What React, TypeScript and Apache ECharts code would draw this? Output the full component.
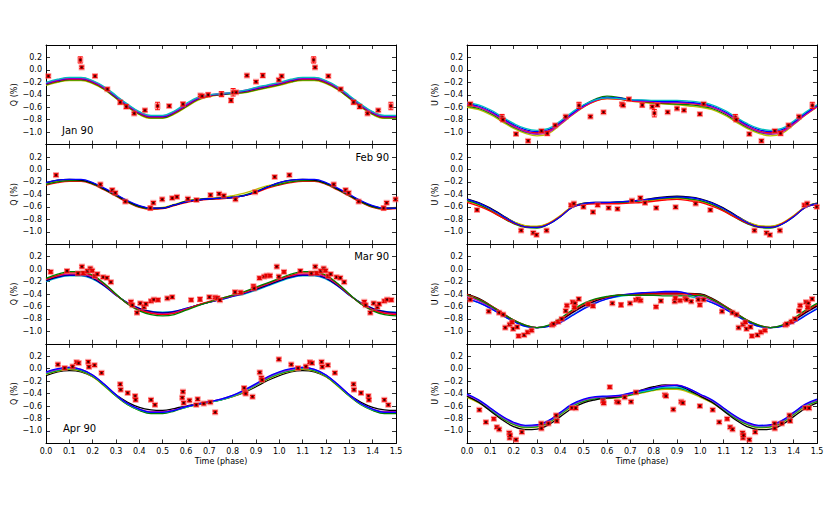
import React, { useEffect, useRef } from "react";
import * as echarts from "echarts";

// phase grid for one cycle of the model curves
const PHASE = [0, 0.05, 0.1, 0.15, 0.2, 0.25, 0.3, 0.35, 0.4, 0.45, 0.5, 0.55, 0.6, 0.65, 0.7, 0.75, 0.8, 0.85, 0.9, 0.95, 1.0];
const X_TICKS = [0, 0.1, 0.2, 0.3, 0.4, 0.5, 0.6, 0.7, 0.8, 0.9, 1.0, 1.1, 1.2, 1.3, 1.4, 1.5];
const Y_TICKS = [-1.0, -0.8, -0.6, -0.4, -0.2, 0.0, 0.2];
const PANEL_LABELS = ["Jan 90", "Feb 90", "Mar 90", "Apr 90"];

const COLORS: Record<string, string> = {
  b: "#0000ff", g: "#008000", r: "#ff0000", c: "#00bfbf", m: "#bf00bf", y: "#bfbf00", k: "#000000",
};

// ---- Q model curves ----
const Q_JAN = {
  y: [-0.25,-0.20,-0.17,-0.17,-0.22,-0.32,-0.46,-0.60,-0.72,-0.78,-0.78,-0.71,-0.60,-0.49,-0.43,-0.40,-0.38,-0.37,-0.33,-0.29,-0.25],
  g: [-0.24,-0.19,-0.16,-0.16,-0.21,-0.31,-0.45,-0.59,-0.71,-0.77,-0.77,-0.70,-0.59,-0.48,-0.42,-0.40,-0.38,-0.36,-0.32,-0.28,-0.24],
  r: [-0.23,-0.18,-0.15,-0.15,-0.20,-0.30,-0.44,-0.58,-0.70,-0.76,-0.76,-0.69,-0.58,-0.47,-0.42,-0.39,-0.37,-0.35,-0.31,-0.27,-0.23],
  b: [-0.22,-0.17,-0.14,-0.14,-0.19,-0.29,-0.43,-0.57,-0.69,-0.75,-0.75,-0.68,-0.57,-0.46,-0.41,-0.39,-0.37,-0.34,-0.30,-0.26,-0.22],
  m: [-0.21,-0.16,-0.13,-0.13,-0.18,-0.28,-0.42,-0.56,-0.68,-0.74,-0.74,-0.67,-0.56,-0.45,-0.40,-0.38,-0.36,-0.33,-0.29,-0.25,-0.21],
  c: [-0.20,-0.15,-0.12,-0.12,-0.17,-0.27,-0.41,-0.55,-0.67,-0.73,-0.73,-0.66,-0.54,-0.44,-0.40,-0.38,-0.36,-0.33,-0.28,-0.24,-0.20],
};
const Q_FEB = {
  y: [-0.23,-0.19,-0.18,-0.18,-0.22,-0.31,-0.41,-0.51,-0.59,-0.62,-0.61,-0.56,-0.51,-0.48,-0.46,-0.45,-0.42,-0.38,-0.32,-0.26,-0.23],
  r: [-0.25,-0.21,-0.19,-0.19,-0.24,-0.33,-0.43,-0.53,-0.61,-0.64,-0.63,-0.58,-0.53,-0.50,-0.48,-0.47,-0.45,-0.42,-0.37,-0.30,-0.25],
  g: [-0.24,-0.20,-0.18,-0.18,-0.23,-0.32,-0.42,-0.52,-0.60,-0.63,-0.62,-0.57,-0.51,-0.48,-0.47,-0.46,-0.44,-0.41,-0.35,-0.28,-0.24],
  k: [-0.21,-0.17,-0.16,-0.17,-0.22,-0.31,-0.41,-0.51,-0.59,-0.62,-0.62,-0.57,-0.52,-0.49,-0.47,-0.46,-0.45,-0.42,-0.36,-0.28,-0.21],
  b: [-0.21,-0.17,-0.16,-0.16,-0.21,-0.30,-0.40,-0.50,-0.58,-0.62,-0.62,-0.57,-0.52,-0.49,-0.47,-0.46,-0.45,-0.42,-0.36,-0.28,-0.21],
};
const Q_MAR = {
  c: [-0.20,-0.14,-0.11,-0.11,-0.16,-0.27,-0.42,-0.54,-0.63,-0.68,-0.69,-0.68,-0.63,-0.58,-0.53,-0.49,-0.44,-0.40,-0.34,-0.27,-0.20],
  b: [-0.19,-0.13,-0.10,-0.10,-0.15,-0.27,-0.42,-0.54,-0.63,-0.68,-0.70,-0.68,-0.63,-0.58,-0.53,-0.49,-0.44,-0.39,-0.33,-0.26,-0.19],
  k: [-0.18,-0.12,-0.09,-0.09,-0.14,-0.26,-0.41,-0.55,-0.64,-0.69,-0.71,-0.69,-0.64,-0.58,-0.53,-0.48,-0.43,-0.38,-0.32,-0.25,-0.18],
  m: [-0.17,-0.11,-0.08,-0.08,-0.13,-0.25,-0.41,-0.55,-0.65,-0.70,-0.72,-0.70,-0.64,-0.58,-0.53,-0.48,-0.43,-0.38,-0.31,-0.24,-0.17],
  r: [-0.16,-0.10,-0.06,-0.06,-0.11,-0.24,-0.41,-0.56,-0.66,-0.71,-0.73,-0.71,-0.65,-0.58,-0.52,-0.47,-0.42,-0.37,-0.30,-0.23,-0.16],
  g: [-0.15,-0.08,-0.04,-0.04,-0.10,-0.23,-0.40,-0.56,-0.67,-0.73,-0.75,-0.73,-0.66,-0.59,-0.53,-0.47,-0.42,-0.36,-0.29,-0.22,-0.15],
};
const Q_APR = {
  k: [-0.11,-0.05,-0.03,-0.05,-0.13,-0.27,-0.42,-0.54,-0.62,-0.66,-0.67,-0.64,-0.60,-0.56,-0.53,-0.50,-0.45,-0.38,-0.29,-0.19,-0.11],
  y: [-0.09,-0.04,-0.01,-0.04,-0.13,-0.28,-0.44,-0.58,-0.67,-0.71,-0.71,-0.67,-0.62,-0.57,-0.54,-0.50,-0.45,-0.37,-0.27,-0.17,-0.09],
  g: [-0.08,-0.03,0.00,-0.03,-0.12,-0.27,-0.44,-0.58,-0.67,-0.72,-0.72,-0.68,-0.62,-0.58,-0.54,-0.50,-0.44,-0.36,-0.26,-0.16,-0.08],
  c: [-0.07,-0.02,0.01,-0.02,-0.11,-0.26,-0.43,-0.57,-0.66,-0.70,-0.70,-0.67,-0.62,-0.57,-0.54,-0.50,-0.44,-0.36,-0.26,-0.15,-0.07],
  m: [-0.06,-0.01,0.02,-0.01,-0.10,-0.25,-0.42,-0.56,-0.65,-0.69,-0.69,-0.66,-0.61,-0.57,-0.53,-0.49,-0.43,-0.35,-0.25,-0.14,-0.06],
  b: [-0.05,0.00,0.02,-0.01,-0.10,-0.25,-0.42,-0.56,-0.65,-0.70,-0.70,-0.67,-0.61,-0.57,-0.53,-0.49,-0.43,-0.34,-0.24,-0.13,-0.05],
};

// ---- U model curves ----
const U_JAN = {
  y: [-0.60,-0.64,-0.72,-0.83,-0.94,-1.02,-1.06,-1.02,-0.88,-0.73,-0.60,-0.50,-0.46,-0.47,-0.50,-0.52,-0.54,-0.55,-0.56,-0.58,-0.60],
  g: [-0.58,-0.62,-0.70,-0.81,-0.92,-1.00,-1.03,-0.99,-0.86,-0.71,-0.57,-0.47,-0.42,-0.44,-0.48,-0.51,-0.53,-0.54,-0.55,-0.56,-0.58],
  r: [-0.56,-0.60,-0.68,-0.79,-0.90,-0.98,-1.01,-0.98,-0.86,-0.72,-0.59,-0.50,-0.46,-0.47,-0.50,-0.51,-0.52,-0.53,-0.53,-0.54,-0.56],
  m: [-0.55,-0.60,-0.68,-0.79,-0.91,-0.99,-1.03,-1.00,-0.87,-0.72,-0.59,-0.49,-0.45,-0.46,-0.49,-0.50,-0.51,-0.52,-0.52,-0.53,-0.55],
  b: [-0.54,-0.58,-0.66,-0.77,-0.88,-0.96,-0.99,-0.96,-0.84,-0.70,-0.57,-0.48,-0.44,-0.45,-0.48,-0.49,-0.50,-0.51,-0.51,-0.52,-0.54],
  c: [-0.52,-0.56,-0.64,-0.75,-0.86,-0.94,-0.97,-0.94,-0.82,-0.68,-0.56,-0.48,-0.45,-0.46,-0.48,-0.48,-0.49,-0.49,-0.49,-0.50,-0.52],
};
const U_FEB = {
  k: [-0.47,-0.53,-0.62,-0.73,-0.84,-0.91,-0.92,-0.87,-0.75,-0.60,-0.54,-0.53,-0.53,-0.52,-0.51,-0.49,-0.46,-0.44,-0.43,-0.44,-0.47],
  y: [-0.51,-0.57,-0.65,-0.75,-0.84,-0.90,-0.91,-0.86,-0.74,-0.60,-0.55,-0.54,-0.54,-0.53,-0.52,-0.50,-0.49,-0.47,-0.46,-0.48,-0.51],
  g: [-0.50,-0.56,-0.66,-0.77,-0.87,-0.93,-0.94,-0.88,-0.76,-0.61,-0.55,-0.54,-0.54,-0.53,-0.52,-0.50,-0.48,-0.46,-0.45,-0.47,-0.50],
  r: [-0.53,-0.59,-0.67,-0.77,-0.86,-0.92,-0.93,-0.87,-0.75,-0.61,-0.56,-0.55,-0.55,-0.55,-0.54,-0.53,-0.51,-0.49,-0.48,-0.50,-0.53],
  b: [-0.48,-0.54,-0.63,-0.74,-0.85,-0.92,-0.93,-0.88,-0.76,-0.61,-0.55,-0.53,-0.53,-0.52,-0.51,-0.49,-0.47,-0.45,-0.44,-0.45,-0.48],
};
const U_MAR = {
  c: [-0.48,-0.54,-0.63,-0.74,-0.84,-0.92,-0.94,-0.92,-0.85,-0.74,-0.63,-0.54,-0.48,-0.44,-0.42,-0.41,-0.40,-0.40,-0.41,-0.44,-0.48],
  m: [-0.44,-0.51,-0.61,-0.72,-0.83,-0.91,-0.94,-0.91,-0.83,-0.71,-0.60,-0.52,-0.46,-0.42,-0.40,-0.39,-0.38,-0.38,-0.38,-0.40,-0.44],
  k: [-0.40,-0.47,-0.58,-0.70,-0.82,-0.91,-0.94,-0.91,-0.82,-0.70,-0.59,-0.51,-0.45,-0.42,-0.41,-0.40,-0.39,-0.39,-0.39,-0.39,-0.40],
  r: [-0.41,-0.48,-0.58,-0.70,-0.82,-0.90,-0.94,-0.91,-0.81,-0.68,-0.57,-0.49,-0.45,-0.42,-0.41,-0.40,-0.40,-0.40,-0.40,-0.40,-0.41],
  b: [-0.47,-0.54,-0.63,-0.74,-0.84,-0.92,-0.94,-0.92,-0.86,-0.75,-0.64,-0.55,-0.48,-0.43,-0.40,-0.38,-0.37,-0.36,-0.36,-0.40,-0.47],
  g: [-0.42,-0.49,-0.59,-0.71,-0.82,-0.90,-0.94,-0.90,-0.79,-0.66,-0.55,-0.48,-0.44,-0.42,-0.42,-0.42,-0.42,-0.43,-0.43,-0.43,-0.42],
};
const U_APR = {
  y: [-0.46,-0.55,-0.67,-0.80,-0.90,-0.95,-0.94,-0.87,-0.74,-0.61,-0.53,-0.49,-0.48,-0.47,-0.43,-0.39,-0.35,-0.33,-0.33,-0.38,-0.46],
  g: [-0.44,-0.53,-0.66,-0.79,-0.89,-0.94,-0.93,-0.86,-0.73,-0.60,-0.52,-0.48,-0.47,-0.46,-0.42,-0.38,-0.34,-0.31,-0.31,-0.36,-0.44],
  c: [-0.43,-0.52,-0.65,-0.78,-0.88,-0.93,-0.92,-0.85,-0.72,-0.59,-0.51,-0.47,-0.46,-0.45,-0.41,-0.37,-0.33,-0.30,-0.30,-0.35,-0.43],
  k: [-0.44,-0.54,-0.68,-0.82,-0.93,-0.98,-0.97,-0.90,-0.77,-0.64,-0.55,-0.50,-0.47,-0.45,-0.40,-0.34,-0.29,-0.26,-0.27,-0.34,-0.44],
  m: [-0.42,-0.51,-0.64,-0.77,-0.87,-0.92,-0.91,-0.84,-0.71,-0.58,-0.50,-0.46,-0.45,-0.44,-0.40,-0.35,-0.31,-0.27,-0.26,-0.32,-0.42],
  b: [-0.41,-0.50,-0.63,-0.76,-0.86,-0.91,-0.90,-0.83,-0.70,-0.57,-0.49,-0.45,-0.44,-0.43,-0.39,-0.35,-0.31,-0.28,-0.27,-0.32,-0.41],
};

// ---- observations: [phase, value (%), error (%)] ----
const Q_JAN_PTS = [
  [0.01,-0.10,0.02],[0.147,0.16,0.05],[0.153,0.04,0.02],[0.21,-0.10,0.02],[0.263,-0.31,0.02],[0.318,-0.52,0.03],
  [0.344,-0.59,0.03],[0.378,-0.70,0.02],[0.424,-0.65,0.02],[0.478,-0.58,0.06],[0.528,-0.58,0.02],[0.587,-0.55,0.03],
  [0.662,-0.41,0.02],[0.669,-0.42,0.02],[0.695,-0.40,0.03],[0.752,-0.39,0.04],[0.793,-0.49,0.03],[0.802,-0.36,0.06],
  [0.815,-0.36,0.02],[0.861,-0.09,0.02],[0.90,-0.19,0.02],[0.929,-0.09,0.03],[0.998,-0.16,0.02],
];
const Q_FEB_PTS = [
  [0.043,-0.09,0.02],[0.233,-0.24,0.02],[0.284,-0.33,0.02],[0.297,-0.375,0.02],[0.34,-0.515,0.02],[0.447,-0.62,0.03],
  [0.46,-0.535,0.02],[0.498,-0.48,0.02],[0.541,-0.46,0.02],[0.561,-0.44,0.02],[0.608,-0.47,0.02],[0.645,-0.49,0.02],
  [0.705,-0.41,0.02],[0.742,-0.39,0.02],[0.762,-0.42,0.02],[0.812,-0.48,0.02],[0.896,-0.365,0.02],[0.98,-0.12,0.02],
];
const Q_MAR_PTS = [
  [0.02,-0.045,0.02],[0.09,-0.03,0.02],[0.137,-0.07,0.02],[0.154,0.04,0.02],[0.161,-0.065,0.02],[0.178,-0.03,0.02],
  [0.19,0.01,0.02],[0.198,-0.025,0.02],[0.21,-0.11,0.02],[0.22,-0.08,0.02],[0.245,-0.13,0.02],[0.261,-0.14,0.02],
  [0.278,-0.21,0.02],[0.364,-0.525,0.02],[0.37,-0.58,0.02],[0.39,-0.70,0.02],[0.404,-0.55,0.02],[0.42,-0.61,0.02],
  [0.428,-0.56,0.02],[0.45,-0.515,0.02],[0.462,-0.49,0.02],[0.48,-0.495,0.02],[0.52,-0.47,0.02],[0.541,-0.45,0.02],
  [0.622,-0.495,0.02],[0.66,-0.485,0.03],[0.70,-0.45,0.02],[0.725,-0.455,0.02],[0.735,-0.465,0.02],[0.745,-0.50,0.02],
  [0.81,-0.37,0.02],[0.834,-0.375,0.02],[0.889,-0.275,0.02],[0.892,-0.31,0.02],[0.915,-0.145,0.02],[0.935,-0.12,0.02],
  [0.946,-0.105,0.02],[0.96,-0.105,0.02],[0.989,0.04,0.02],[0.998,-0.12,0.02],
];
const Q_APR_PTS = [
  [0.051,0.067,0.02],[0.08,0.01,0.02],[0.114,0.035,0.02],[0.131,0.105,0.02],[0.14,0.09,0.02],[0.181,0.11,0.02],
  [0.184,0.03,0.02],[0.208,0.056,0.02],[0.238,-0.066,0.02],[0.318,-0.25,0.02],[0.32,-0.337,0.02],[0.35,-0.39,0.02],
  [0.382,-0.44,0.02],[0.384,-0.50,0.02],[0.45,-0.50,0.02],[0.467,-0.58,0.02],[0.584,-0.465,0.02],[0.587,-0.37,0.02],
  [0.59,-0.55,0.02],[0.615,-0.51,0.02],[0.644,-0.58,0.02],[0.65,-0.49,0.02],[0.676,-0.56,0.02],[0.704,-0.54,0.02],
  [0.725,-0.70,0.02],[0.849,-0.31,0.02],[0.853,-0.38,0.02],[0.856,-0.40,0.02],[0.885,-0.45,0.02],[0.916,-0.06,0.02],
  [0.923,-0.146,0.02],[0.926,-0.18,0.02],[0.998,0.15,0.02],
];
const U_JAN_PTS = [
  [0.014,-0.545,0.02],[0.15,-0.765,0.05],[0.154,-0.80,0.02],[0.21,-1.03,0.02],[0.262,-1.14,0.02],[0.319,-0.98,0.02],
  [0.344,-1.02,0.03],[0.378,-0.89,0.02],[0.423,-0.75,0.02],[0.48,-0.57,0.05],[0.529,-0.75,0.02],[0.585,-0.68,0.02],
  [0.664,-0.55,0.02],[0.669,-0.57,0.02],[0.694,-0.47,0.02],[0.751,-0.565,0.03],[0.794,-0.59,0.02],[0.803,-0.695,0.06],
  [0.816,-0.565,0.02],[0.86,-0.68,0.02],[0.90,-0.62,0.02],[0.93,-0.65,0.02],[0.998,-0.71,0.02],
];
const U_FEB_PTS = [
  [0.043,-0.65,0.02],[0.232,-0.98,0.02],[0.284,-1.016,0.02],[0.298,-1.05,0.02],[0.341,-0.98,0.02],[0.446,-0.573,0.02],
  [0.458,-0.547,0.02],[0.499,-0.60,0.02],[0.54,-0.685,0.02],[0.56,-0.573,0.02],[0.607,-0.616,0.02],[0.645,-0.632,0.02],
  [0.707,-0.50,0.02],[0.743,-0.456,0.02],[0.763,-0.536,0.02],[0.811,-0.616,0.02],[0.894,-0.605,0.02],[0.98,-0.547,0.02],
];
const U_MAR_PTS = [
  [0.014,-0.49,0.02],[0.093,-0.68,0.02],[0.138,-0.70,0.02],[0.155,-0.73,0.02],[0.164,-0.94,0.02],[0.183,-0.89,0.02],
  [0.193,-0.855,0.02],[0.198,-0.96,0.02],[0.215,-0.93,0.02],[0.221,-1.075,0.02],[0.245,-1.06,0.02],[0.26,-1.015,0.02],
  [0.277,-0.985,0.02],[0.365,-0.90,0.02],[0.371,-0.88,0.02],[0.391,-0.845,0.02],[0.406,-0.80,0.02],[0.423,-0.67,0.02],
  [0.428,-0.585,0.02],[0.453,-0.53,0.02],[0.463,-0.55,0.02],[0.46,-0.615,0.02],[0.479,-0.48,0.02],[0.52,-0.565,0.02],
  [0.54,-0.595,0.02],[0.623,-0.55,0.02],[0.66,-0.575,0.03],[0.699,-0.55,0.02],[0.724,-0.495,0.02],[0.734,-0.48,0.02],
  [0.744,-0.505,0.02],[0.81,-0.605,0.02],[0.831,-0.51,0.02],[0.89,-0.52,0.02],[0.893,-0.467,0.02],[0.913,-0.505,0.02],
  [0.935,-0.47,0.02],[0.941,-0.49,0.02],[0.961,-0.52,0.02],[0.991,-0.49,0.02],[0.998,-0.575,0.02],
];
const U_APR_PTS = [
  [0.053,-0.66,0.02],[0.081,-0.86,0.02],[0.115,-0.805,0.02],[0.128,-0.94,0.02],[0.138,-0.975,0.02],[0.181,-1.03,0.02],
  [0.183,-1.11,0.02],[0.185,-1.07,0.02],[0.21,-1.14,0.02],[0.235,-1.02,0.02],[0.318,-0.88,0.02],[0.319,-0.96,0.02],
  [0.349,-0.88,0.02],[0.382,-0.75,0.02],[0.385,-0.84,0.02],[0.45,-0.63,0.02],[0.466,-0.635,0.02],[0.583,-0.52,0.02],
  [0.586,-0.555,0.02],[0.612,-0.295,0.02],[0.642,-0.53,0.02],[0.649,-0.54,0.02],[0.676,-0.46,0.02],[0.703,-0.53,0.02],
  [0.724,-0.38,0.02],[0.848,-0.42,0.02],[0.853,-0.44,0.02],[0.884,-0.655,0.02],[0.918,-0.53,0.02],[0.925,-0.55,0.02],
  [0.998,-0.60,0.02],
];

const PANELS = [
  { col: 0, row: 0, curves: Q_JAN, pts: Q_JAN_PTS, name: "Q (%)" },
  { col: 0, row: 1, curves: Q_FEB, pts: Q_FEB_PTS, name: "Q (%)" },
  { col: 0, row: 2, curves: Q_MAR, pts: Q_MAR_PTS, name: "Q (%)" },
  { col: 0, row: 3, curves: Q_APR, pts: Q_APR_PTS, name: "Q (%)" },
  { col: 1, row: 0, curves: U_JAN, pts: U_JAN_PTS, name: "U (%)" },
  { col: 1, row: 1, curves: U_FEB, pts: U_FEB_PTS, name: "U (%)" },
  { col: 1, row: 2, curves: U_MAR, pts: U_MAR_PTS, name: "U (%)" },
  { col: 1, row: 3, curves: U_APR, pts: U_APR_PTS, name: "U (%)" },
];

// Phase-folded: plot one cycle, then repeat it for phase 1.0 - 1.5
function unfoldCurve(vals: number[]) {
  const out: number[][] = [];
  PHASE.forEach((p, i) => out.push([p, vals[i]]));
  PHASE.forEach((p, i) => {
    if (i > 0 && p <= 0.5 + 1e-9) out.push([+(p + 1).toFixed(2), vals[i]]);
  });
  return out;
}
function unfoldPts(pts: number[][]) {
  const out: number[][] = [];
  pts.forEach((d) => out.push(d));
  pts.forEach((d) => {
    if (d[0] + 1 <= 1.5) out.push([d[0] + 1, d[1], d[2]]);
  });
  return out;
}

const FONT = "DejaVu Sans";
const fmtNum = (v: number) => {
  const r = Math.abs(v) < 1e-9 ? 0 : v;
  return r.toFixed(1).replace("-", "\u2212");
};

export default function App() {
  const ref = useRef<HTMLDivElement>(null);
  useEffect(() => {
    if (!ref.current) return;
    const chart = echarts.init(ref.current, undefined, { renderer: "svg" });
    const tops = [45, 144.6, 244.2, 343.8];
    const H = 99.6;
    const grids: any[] = [];
    const xAxes: any[] = [];
    const yAxes: any[] = [];
    const series: any[] = [];
    const frameLine = { show: true, onZero: false, lineStyle: { color: "#000", width: 1 } };
    const tick = { show: true, inside: true, length: 4, lineStyle: { color: "#000", width: 0.8 } };

    PANELS.forEach((pn, i) => {
      const left = pn.col === 0 ? 46 : 467;
      grids.push({ left, top: tops[pn.row], width: 350, height: H, containLabel: false });
      const isBottom = pn.row === 3;
      xAxes.push({
        type: "value", gridIndex: i, position: "bottom", min: 0, max: 1.5, interval: 0.1,
        axisLine: frameLine, axisTick: tick, splitLine: { show: false },
        axisLabel: {
          show: isBottom, margin: 4, fontSize: 8, fontFamily: FONT, color: "#000",
          formatter: (v: number) => (X_TICKS.some((t) => Math.abs(t - v) < 1e-6) ? v.toFixed(1) : ""),
        },
        name: isBottom ? "Time (phase)" : "", nameLocation: "middle", nameGap: 14,
        nameTextStyle: { fontSize: 8, fontFamily: FONT, color: "#000" },
      });
      xAxes.push({
        type: "value", gridIndex: i, position: "top", min: 0, max: 1.5, interval: 0.1,
        axisLine: frameLine, axisTick: tick, splitLine: { show: false }, axisLabel: { show: false },
      });
      yAxes.push({
        type: "value", gridIndex: i, position: "left", min: -1.2, max: 0.4, interval: 0.2,
        axisLine: frameLine, axisTick: tick, splitLine: { show: false },
        axisLabel: {
          margin: 4, fontSize: 8, fontFamily: FONT, color: "#000",
          formatter: (v: number) => (Y_TICKS.some((t) => Math.abs(t - v) < 1e-6) ? fmtNum(v) : ""),
        },
        name: pn.name, nameLocation: "middle", nameGap: 26, nameRotate: 90,
        nameTextStyle: { fontSize: 8, fontFamily: FONT, color: "#000" },
      });
      yAxes.push({
        type: "value", gridIndex: i, position: "right", min: -1.2, max: 0.4, interval: 0.2,
        axisLine: frameLine, axisTick: tick, splitLine: { show: false }, axisLabel: { show: false },
      });

      Object.keys(pn.curves).forEach((key) => {
        series.push({
          type: "line", xAxisIndex: 2 * i, yAxisIndex: 2 * i,
          data: unfoldCurve((pn.curves as any)[key]), smooth: 0.4, showSymbol: false, symbol: "none",
          lineStyle: { color: COLORS[key], width: 1.3 }, silent: true, z: 2,
        });
      });

      series.push({
        type: "custom", xAxisIndex: 2 * i, yAxisIndex: 2 * i, z: 5, silent: true,
        data: unfoldPts(pn.pts), encode: { x: 0, y: 1 },
        renderItem: (_p: any, api: any) => {
          const x = api.value(0);
          const y = api.value(1);
          const e = api.value(2);
          const c = api.coord([x, y]);
          const t = api.coord([x, y + e]);
          const b = api.coord([x, y - e]);
          return {
            type: "group",
            children: [
              { type: "rect", shape: { x: c[0] - 3, y: c[1] - 3, width: 6, height: 6 }, style: { fill: "rgba(250,90,90,0.6)" } },
              { type: "line", shape: { x1: c[0], y1: t[1], x2: c[0], y2: b[1] }, style: { stroke: "#ff0000", lineWidth: 1 } },
              { type: "line", shape: { x1: c[0] - 2.5, y1: t[1], x2: c[0] + 2.5, y2: t[1] }, style: { stroke: "#ff0000", lineWidth: 1 } },
              { type: "line", shape: { x1: c[0] - 2.5, y1: b[1], x2: c[0] + 2.5, y2: b[1] }, style: { stroke: "#ff0000", lineWidth: 1 } },
              { type: "rect", shape: { x: c[0] - 1.8, y: c[1] - 1.8, width: 3.6, height: 3.6 }, style: { fill: "#e00000" } },
              { type: "circle", shape: { cx: c[0], cy: c[1], r: 1 }, style: { fill: "#300000" } },
            ],
          };
        },
      });
    });

    const labelStyle = { fontSize: 10, fontFamily: FONT, fill: "#000" };
    const graphic = [
      { type: "text", left: 62, top: 125, style: { ...labelStyle, text: PANEL_LABELS[0] } },
      { type: "text", right: 830 - 389, top: 152, style: { ...labelStyle, text: PANEL_LABELS[1] } },
      { type: "text", right: 830 - 389, top: 251, style: { ...labelStyle, text: PANEL_LABELS[2] } },
      { type: "text", left: 63, top: 423, style: { ...labelStyle, text: PANEL_LABELS[3] } },
    ];

    chart.setOption({
      animation: false,
      backgroundColor: "#fff",
      grid: grids,
      xAxis: xAxes,
      yAxis: yAxes,
      series,
      graphic,
    });
    return () => chart.dispose();
  }, []);
  return <div ref={ref} style={{ position: "absolute", left: 0, top: 0, width: 830, height: 505 }} />;
}
